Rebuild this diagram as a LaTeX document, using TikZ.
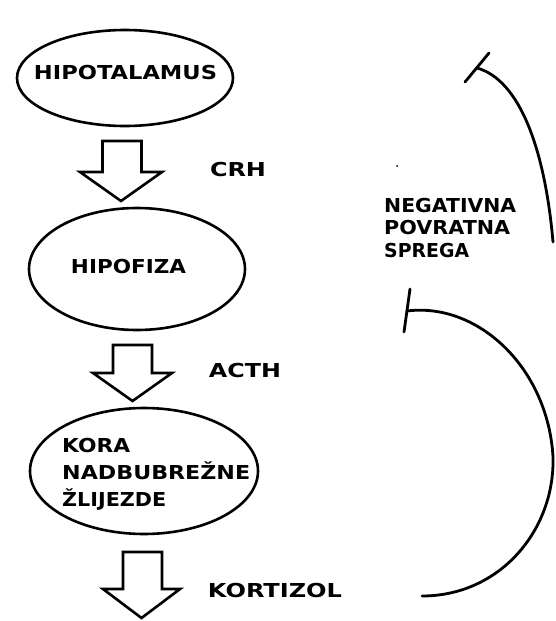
\documentclass[tikz,border=0pt]{standalone}
\usepackage{fontspec}
\setmainfont{DejaVu Sans}
\usepackage{graphicx}
\usetikzlibrary{shapes.geometric}
\newcommand{\tw}[2]{\resizebox{#1pt}{\height}{#2}}
\begin{document}
\begin{tikzpicture}[x=1pt,y=-1pt,
  lbl/.style={font=\bfseries\fontsize{19.2}{23}\selectfont, inner sep=0pt, text height=14pt, text depth=0pt},
  ell/.style={draw, ellipse, line width=2.6pt, inner sep=0pt},
  blk/.style={draw, line width=2.6pt, line join=miter},
  fb/.style={draw, line width=2.8pt, line cap=round}]
\useasboundingbox (0,0) rectangle (555,621);

% ellipses
\node[ell, minimum width=216, minimum height=96] (hipot) at (125,78) {};
\node[ell, minimum width=216, minimum height=122] (hipof) at (137,269) {};
\node[ell, minimum width=228, minimum height=126] (kora) at (144,471) {};

% texts in ellipses
\node[lbl] (thipot) at (125.5,72.5) {\tw{183}{HIPOTALAMUS}};
\node[lbl] (thipof) at (128.5,266) {\tw{115}{HIPOFIZA}};
\node[lbl, anchor=west] (k1) at (62,445) {\tw{68}{KORA}};
\node[lbl, anchor=west] (k2) at (62,472) {\tw{188}{NADBUBREŽNE}};
\node[lbl, anchor=west] (k3) at (62,499) {\tw{104}{ŽLIJEZDE}};

% block arrows
\draw[blk] (102.5,141) -- (141.5,141) -- (141.5,172) -- (162,172) -- (121,201)
  -- (80,172) -- (102.5,172) -- cycle;
\draw[blk] (113,345) -- (152,345) -- (152,373) -- (172,373) -- (132.5,401)
  -- (93,373) -- (113,373) -- cycle;
\draw[blk] (123,552) -- (162,552) -- (162,589) -- (180,589) -- (141.5,618)
  -- (103,589) -- (123,589) -- cycle;

% hormone labels
\node[lbl] (crh) at (238,169.5) {\tw{56}{CRH}};
\node[lbl] (acth) at (245,370) {\tw{72}{ACTH}};
\node[lbl] (kort) at (275,590) {\tw{134}{KORTIZOL}};

% feedback label
\node[lbl, anchor=west] (n1) at (384,205) {\tw{132}{NEGATIVNA}};
\node[lbl, anchor=west] (n2) at (384,227.5) {\tw{126}{POVRATNA}};
\node[lbl, anchor=west] (n3) at (384,250.5) {\tw{85}{SPREGA}};

% feedback curves
\coordinate (ub1) at (465,82);
\coordinate (ub2) at (489,53);
\coordinate (us) at (477,68);
\coordinate (ue) at (553,242);
\draw[fb] (ub1) -- (ub2);
\draw[fb] (us) .. controls (520,80) and (545,150) .. (ue);

\coordinate (lb1) at (410,289);
\coordinate (lb2) at (404,332);
\coordinate (ls) at (407,311);
\coordinate (lm) at (553,457);
\coordinate (le) at (422,596);
\draw[fb] (lb1) -- (lb2);
\draw[fb] (ls) .. controls (478,302) and (548,368) .. (lm)
  .. controls (555,530) and (500,596) .. (le);

\fill (397,166) circle (1);
\end{tikzpicture}
\end{document}
